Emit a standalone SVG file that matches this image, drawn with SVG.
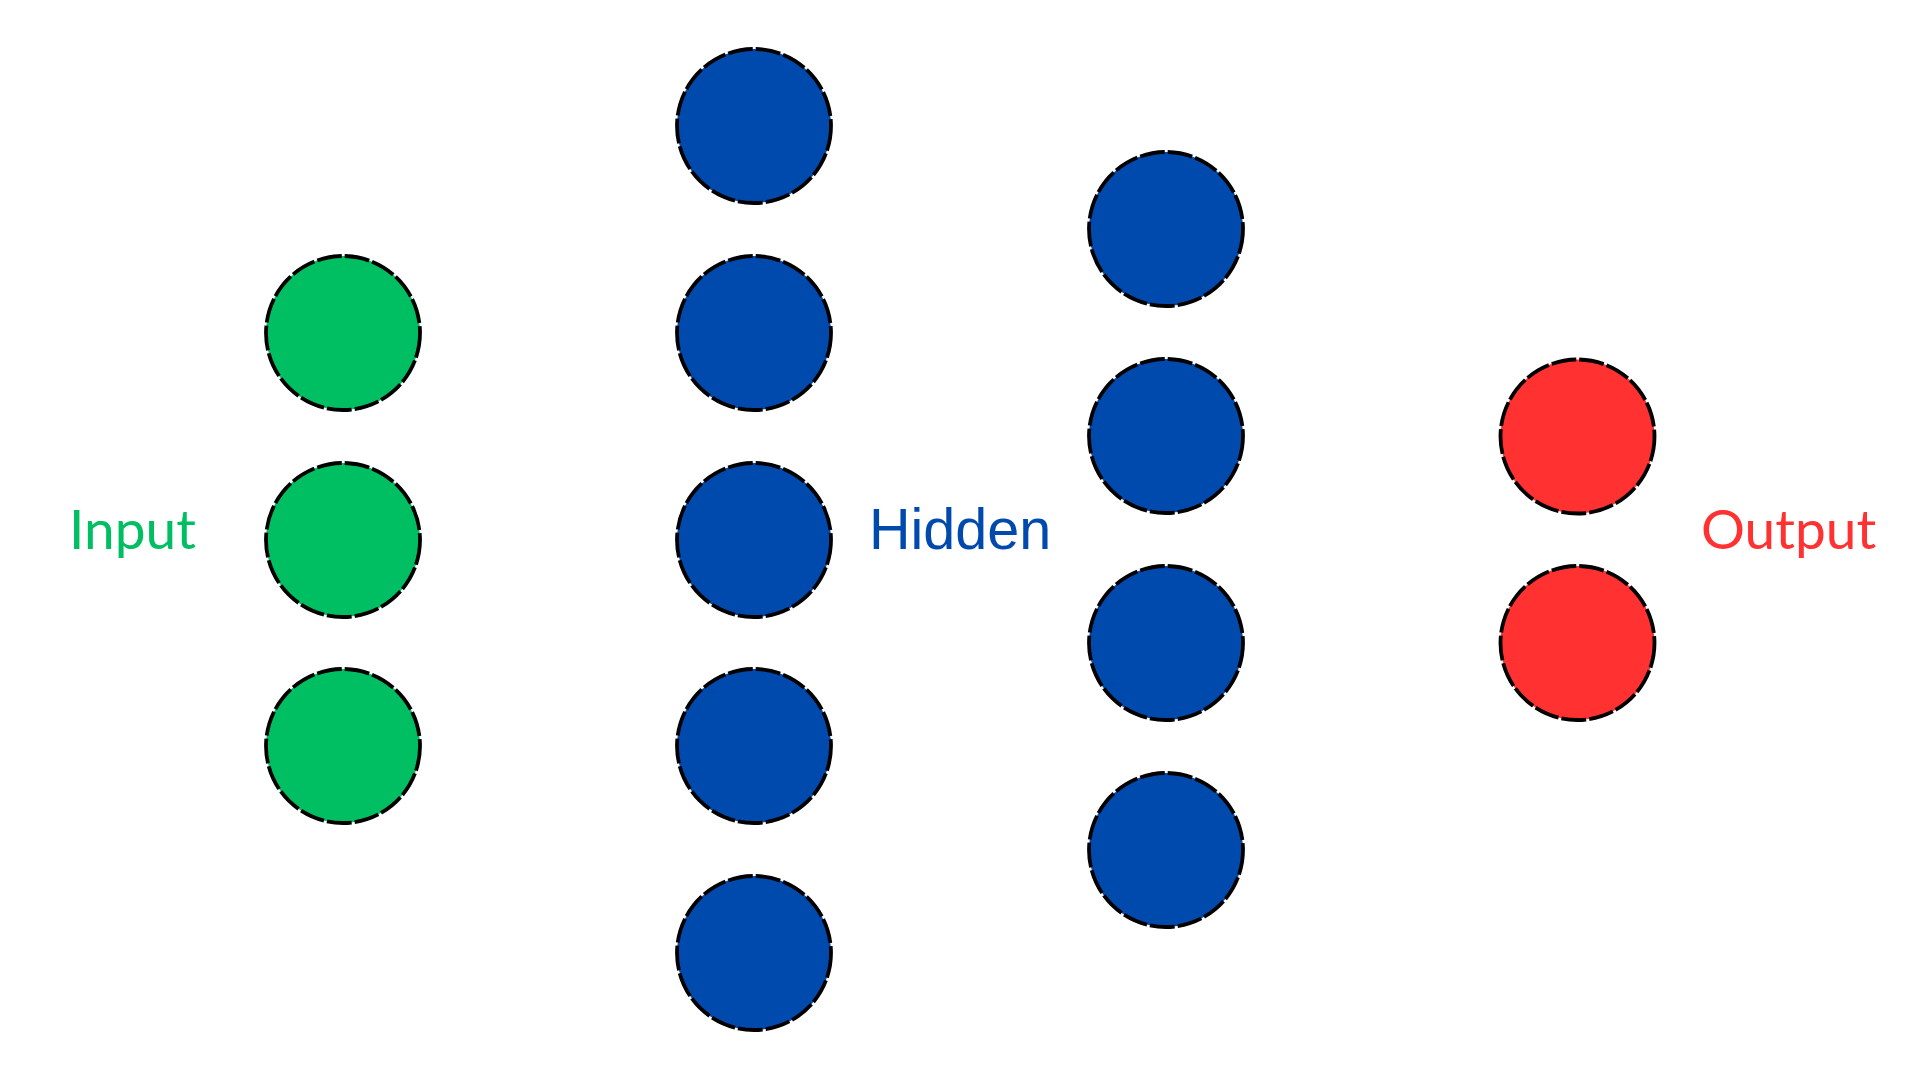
<svg xmlns="http://www.w3.org/2000/svg" width="1920" height="1080" viewBox="0 0 1920 1080">
<style>
.n{stroke:#000;stroke-width:3.8;stroke-dasharray:25 3}
.in{fill:#00BF63}
.hid{fill:#004AAD}
.out{fill:#FF3131}
.lbl{font-family:Lato,"Open Sans",sans-serif;font-size:55px}
.lblh{font-family:"Liberation Sans",Arial,sans-serif;font-size:57.5px}
</style>
<rect width="1920" height="1080" fill="#fff"/>
<g id="connectors"></g>
<g id="input-1"><circle class="n in" cx="343" cy="333" r="77"/></g>
<g id="input-2"><circle class="n in" cx="343" cy="540" r="77"/></g>
<g id="input-3"><circle class="n in" cx="343" cy="746" r="77"/></g>
<g id="hidden1-1"><circle class="n hid" cx="754" cy="126" r="77"/></g>
<g id="hidden1-2"><circle class="n hid" cx="754" cy="333" r="77"/></g>
<g id="hidden1-3"><circle class="n hid" cx="754" cy="540" r="77"/></g>
<g id="hidden1-4"><circle class="n hid" cx="754" cy="746" r="77"/></g>
<g id="hidden1-5"><circle class="n hid" cx="754" cy="953" r="77"/></g>
<g id="hidden2-1"><circle class="n hid" cx="1166" cy="229" r="77"/></g>
<g id="hidden2-2"><circle class="n hid" cx="1166" cy="436" r="77"/></g>
<g id="hidden2-3"><circle class="n hid" cx="1166" cy="643" r="77"/></g>
<g id="hidden2-4"><circle class="n hid" cx="1166" cy="850" r="77"/></g>
<g id="output-1"><circle class="n out" cx="1577.5" cy="436.5" r="77"/></g>
<g id="output-2"><circle class="n out" cx="1577.5" cy="643" r="77"/></g>
<g id="label-input"><text class="lbl" x="69" y="549" fill="#00BF63">Input</text></g>
<g id="label-hidden"><text class="lblh" x="869" y="549" fill="#004AAD">Hidden</text></g>
<g id="label-output"><text class="lbl" x="1701" y="549" fill="#FF3131">Output</text></g>
</svg>
